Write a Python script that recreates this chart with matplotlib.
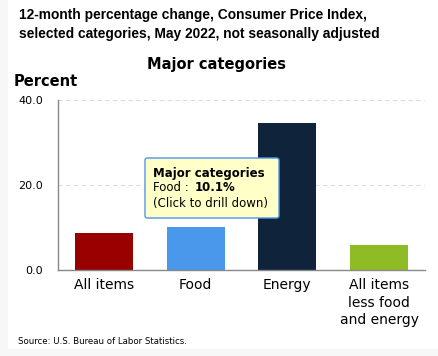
import matplotlib.pyplot as plt
from matplotlib.patches import FancyBboxPatch, Rectangle

# CPI 12-month change, May 2022
categories = ['All items', 'Food', 'Energy', 'All items\nless food\nand energy']
values = [8.6, 10.1, 34.6, 6.0]
colors = ['#990000', '#4a98ec', '#0f233b', '#8fbc24']
yticks = [0, 20, 40]

W, H = 439, 356
fig = plt.figure(figsize=(W / 100, H / 100), dpi=100, facecolor='#f7f7f7')

def fx(px):
    return px / W

def fy(py):
    return 1 - py / H

# white panel
fig.patches.append(Rectangle((fx(8), fy(349)), fx(431), 349 / H, transform=fig.transFigure,
                             facecolor='white', edgecolor='none', zorder=-1))

ax = fig.add_axes([fx(58), fy(270), fx(367), 170 / H])
ax.set_facecolor('white')
ax.bar(range(len(values)), values, width=0.63, color=colors, zorder=2)
ax.set_xlim(-0.5, 3.5)
ax.set_ylim(0, 40)
ax.set_yticks(yticks)
ax.set_yticklabels([f'{v:.1f}' for v in yticks], fontsize=8, family='DejaVu Sans')
ax.set_xticks(range(len(values)))
ax.set_xticklabels(categories, fontsize=10, family='DejaVu Sans', linespacing=1.32)
ax.tick_params(length=0, pad=6)
ax.tick_params(axis='y', pad=11)
ax.grid(axis='y', linestyle=(0, (4, 3)), color='#dddddd', linewidth=0.8, zorder=0)
for s in ['top', 'right']:
    ax.spines[s].set_visible(False)
for s in ['left', 'bottom']:
    ax.spines[s].set_color('#888888')
    ax.spines[s].set_linewidth(1)

# titles
fig.text(fx(19), fy(15), '12-month percentage change, Consumer Price Index,',
         fontsize=9.9, fontweight='bold', family='Liberation Sans', va='center')
fig.text(fx(19), fy(34), 'selected categories, May 2022, not seasonally adjusted',
         fontsize=9.9, fontweight='bold', family='Liberation Sans', va='center')
fig.text(fx(217), fy(64), 'Major categories', fontsize=10.5, fontweight='bold',
         family='DejaVu Sans', ha='center', va='center')
fig.text(fx(14), fy(81), 'Percent', fontsize=10.5, fontweight='bold',
         family='DejaVu Sans', va='center')
fig.text(fx(18), fy(341), 'Source: U.S. Bureau of Labor Statistics.', fontsize=6.2,
         family='DejaVu Sans', va='center')

# tooltip
fig.patches.append(FancyBboxPatch((fx(145), fy(218)), fx(134), 60 / H,
                                  boxstyle='round,pad=0,rounding_size=0.006',
                                  transform=fig.transFigure, facecolor='#ffffc8',
                                  edgecolor='#4a98ec', linewidth=1, zorder=5))
fig.text(fx(153), fy(173), 'Major categories', fontsize=8.5, fontweight='bold',
         family='DejaVu Sans', va='center', zorder=6)
fig.text(fx(153), fy(188), 'Food : ', fontsize=8.5, family='DejaVu Sans',
         va='center', zorder=6)
fig.text(fx(195), fy(188), f'{values[1]:.1f}%', fontsize=8.5, fontweight='bold',
         family='DejaVu Sans', va='center', zorder=6)
fig.text(fx(153), fy(203), '(Click to drill down)', fontsize=8.5,
         family='DejaVu Sans', va='center', zorder=6)

fig.savefig('out.png', dpi=100, facecolor=fig.get_facecolor())
